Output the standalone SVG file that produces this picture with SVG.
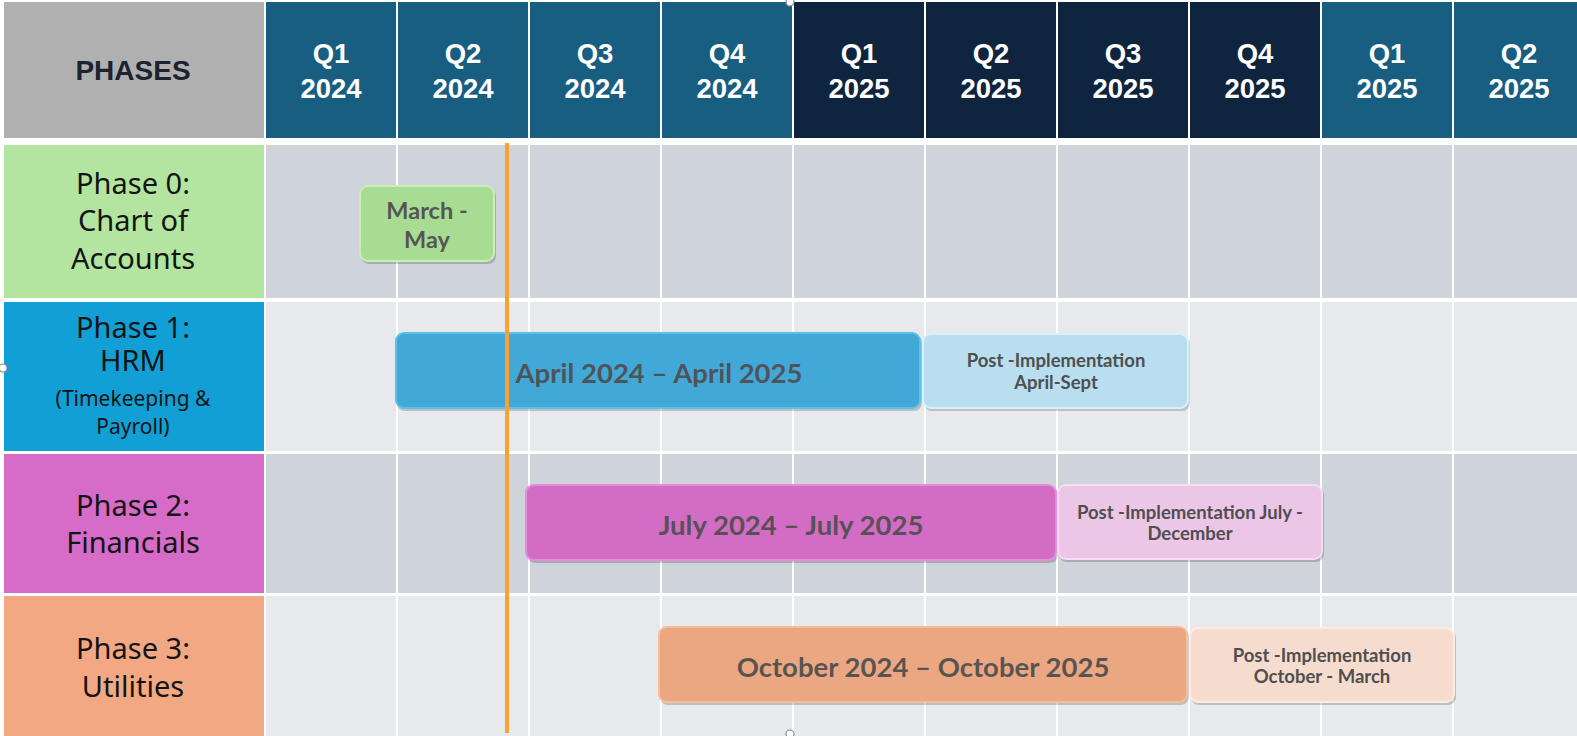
<svg xmlns="http://www.w3.org/2000/svg" width="1577" height="736" viewBox="0 0 1577 736">
  <style>
    .qcell-a { fill: #185e81; }
    .qcell-b { fill: #0f243e; }
    .qtext { font-family: "Liberation Sans", Arial, sans-serif; font-weight: bold; font-size: 27.5px; fill: #ffffff; text-anchor: middle; }
    .hdr { font-family: "Liberation Sans", Arial, sans-serif; font-weight: bold; font-size: 28px; fill: #1b2230; text-anchor: middle; }
    .plabel { font-family: "Noto Sans", "Open Sans", sans-serif; font-size: 29px; fill: #141414; text-anchor: middle; }
    .plabel-sm { font-family: "Noto Sans", "Open Sans", sans-serif; font-size: 21px; fill: #141414; text-anchor: middle; }
    .row-dark { fill: #cfd3da; }
    .row-light { fill: #e7e9ec; }
    .vline { stroke: #ffffff; stroke-width: 2; }
    .bar-text { font-family: Lato, "Open Sans", sans-serif; font-weight: bold; font-size: 27.5px; fill: #4f4f4f; fill-opacity: 0.95; text-anchor: middle; }
    .post-text { font-family: Lato, "Open Sans", sans-serif; font-weight: bold; font-size: 18.5px; fill: #4f4f4f; text-anchor: middle; }
    .small-text { font-family: Lato, "Open Sans", sans-serif; font-weight: bold; font-size: 23.5px; fill: #555555; text-anchor: middle; }
    .shadow { fill: #000000; fill-opacity: 0.18; }
    .handle { fill: #ffffff; stroke: #8a8a8a; stroke-width: 1.2; }
  </style>

  <rect x="0" y="0" width="1577" height="736" fill="#ffffff"/>

  <!-- header row -->
  <g id="header">
    <rect x="4" y="2" width="260" height="136" fill="#b0b0b0"/>
    <text class="hdr" x="133" y="80">PHASES</text>

    <rect class="qcell-a" x="266" y="2" width="130" height="136"/>
    <rect class="qcell-a" x="398" y="2" width="130" height="136"/>
    <rect class="qcell-a" x="530" y="2" width="130" height="136"/>
    <rect class="qcell-a" x="662" y="2" width="130" height="136"/>
    <rect class="qcell-b" x="794" y="2" width="130" height="136"/>
    <rect class="qcell-b" x="926" y="2" width="130" height="136"/>
    <rect class="qcell-b" x="1058" y="2" width="130" height="136"/>
    <rect class="qcell-b" x="1190" y="2" width="130" height="136"/>
    <rect class="qcell-a" x="1322" y="2" width="130" height="136"/>
    <rect class="qcell-a" x="1454" y="2" width="123" height="136"/>

    <text class="qtext" x="331" y="63">Q1</text><text class="qtext" x="331" y="98">2024</text>
    <text class="qtext" x="463" y="63">Q2</text><text class="qtext" x="463" y="98">2024</text>
    <text class="qtext" x="595" y="63">Q3</text><text class="qtext" x="595" y="98">2024</text>
    <text class="qtext" x="727" y="63">Q4</text><text class="qtext" x="727" y="98">2024</text>
    <text class="qtext" x="859" y="63">Q1</text><text class="qtext" x="859" y="98">2025</text>
    <text class="qtext" x="991" y="63">Q2</text><text class="qtext" x="991" y="98">2025</text>
    <text class="qtext" x="1123" y="63">Q3</text><text class="qtext" x="1123" y="98">2025</text>
    <text class="qtext" x="1255" y="63">Q4</text><text class="qtext" x="1255" y="98">2025</text>
    <text class="qtext" x="1387" y="63">Q1</text><text class="qtext" x="1387" y="98">2025</text>
    <text class="qtext" x="1519" y="63">Q2</text><text class="qtext" x="1519" y="98">2025</text>
  </g>

  <!-- timeline grid -->
  <g id="grid">
    <rect class="row-dark" x="266" y="145" width="1311" height="153"/>
    <rect class="row-light" x="266" y="302" width="1311" height="149"/>
    <rect class="row-dark" x="266" y="454" width="1311" height="139"/>
    <rect class="row-light" x="266" y="596" width="1311" height="140"/>
    <g class="vline">
      <line x1="397" y1="145" x2="397" y2="736"/>
      <line x1="529" y1="145" x2="529" y2="736"/>
      <line x1="661" y1="145" x2="661" y2="736"/>
      <line x1="793" y1="145" x2="793" y2="736"/>
      <line x1="925" y1="145" x2="925" y2="736"/>
      <line x1="1057" y1="145" x2="1057" y2="736"/>
      <line x1="1189" y1="145" x2="1189" y2="736"/>
      <line x1="1321" y1="145" x2="1321" y2="736"/>
      <line x1="1453" y1="145" x2="1453" y2="736"/>
    </g>
  </g>

  <!-- phase labels -->
  <g id="phase-0">
    <rect x="4" y="145" width="260" height="153" fill="#b3e5a0"/>
    <text class="plabel" x="133" y="194">Phase 0:</text>
    <text class="plabel" x="133" y="231">Chart of</text>
    <text class="plabel" x="133" y="269">Accounts</text>
  </g>
  <g id="phase-1">
    <rect x="4" y="302" width="260" height="149" fill="#119fd6"/>
    <text class="plabel" x="133" y="338">Phase 1:</text>
    <text class="plabel" x="133" y="371">HRM</text>
    <text class="plabel-sm" x="133" y="406">(Timekeeping &amp;</text>
    <text class="plabel-sm" x="133" y="434">Payroll)</text>
  </g>
  <g id="phase-2">
    <rect x="4" y="454" width="260" height="139" fill="#d76bc8"/>
    <text class="plabel" x="133" y="516">Phase 2:</text>
    <text class="plabel" x="133" y="553">Financials</text>
  </g>
  <g id="phase-3">
    <rect x="4" y="596" width="260" height="140" fill="#f2a883"/>
    <text class="plabel" x="133" y="659">Phase 3:</text>
    <text class="plabel" x="133" y="697">Utilities</text>
  </g>

  <!-- schedule bars -->
  <g id="bar-phase-0">
    <rect class="shadow" x="361" y="188" width="135" height="76" rx="8"/>
    <rect x="360" y="186" width="134" height="75" rx="8" fill="#a9dc93" stroke="#c9efb8" stroke-width="2"/>
    <text class="small-text" x="427" y="219">March -</text>
    <text class="small-text" x="427" y="248">May</text>
  </g>

  <g id="bar-phase-1">
    <rect class="shadow" x="397" y="335" width="525" height="76" rx="8"/>
    <rect x="396" y="333" width="524" height="75" rx="8" fill="#42a8d8" stroke="#5cc0ea" stroke-width="2"/>
    <text class="bar-text" x="659" y="383">April 2024 – April 2025</text>
  </g>
  <g id="post-phase-1">
    <rect class="shadow" x="924" y="336" width="266" height="75" rx="8"/>
    <rect x="923" y="334" width="265" height="74" rx="8" fill="#b8def0" stroke="#d8f2fb" stroke-width="2"/>
    <text class="post-text" x="1056" y="367">Post -Implementation</text>
    <text class="post-text" x="1056" y="389">April-Sept</text>
  </g>

  <g id="bar-phase-2">
    <rect class="shadow" x="527" y="487" width="531" height="76" rx="8"/>
    <rect x="526" y="485" width="530" height="75" rx="8" fill="#d26cc4" stroke="#e88ddc" stroke-width="2"/>
    <text class="bar-text" x="791" y="535">July 2024 – July 2025</text>
  </g>
  <g id="post-phase-2">
    <rect class="shadow" x="1059" y="487" width="265" height="75" rx="8"/>
    <rect x="1058" y="485" width="264" height="74" rx="8" fill="#ecc6e7" stroke="#f7ddf3" stroke-width="2"/>
    <text class="post-text" x="1190" y="519">Post -Implementation July -</text>
    <text class="post-text" x="1190" y="540">December</text>
  </g>

  <g id="bar-phase-3">
    <rect class="shadow" x="660" y="629" width="529" height="76" rx="8"/>
    <rect x="659" y="627" width="528" height="75" rx="8" fill="#eba682" stroke="#f6bd9c" stroke-width="2"/>
    <text class="bar-text" x="923" y="677">October 2024 – October 2025</text>
  </g>
  <g id="post-phase-3">
    <rect class="shadow" x="1191" y="630" width="265" height="75" rx="8"/>
    <rect x="1190" y="628" width="264" height="74" rx="8" fill="#f6dccf" stroke="#fcece3" stroke-width="2"/>
    <text class="post-text" x="1322" y="662">Post -Implementation</text>
    <text class="post-text" x="1322" y="683">October - March</text>
  </g>

  <!-- current-date marker -->
  <g id="connectors">
    <line x1="507" y1="143" x2="507" y2="733" stroke="#f7a332" stroke-width="4"/>
  </g>

  <!-- selection handles -->
  <g id="handles">
    <circle class="handle" cx="790" cy="2" r="4"/>
    <circle class="handle" cx="790" cy="734" r="4"/>
    <circle class="handle" cx="3" cy="368" r="4"/>
  </g>
</svg>
